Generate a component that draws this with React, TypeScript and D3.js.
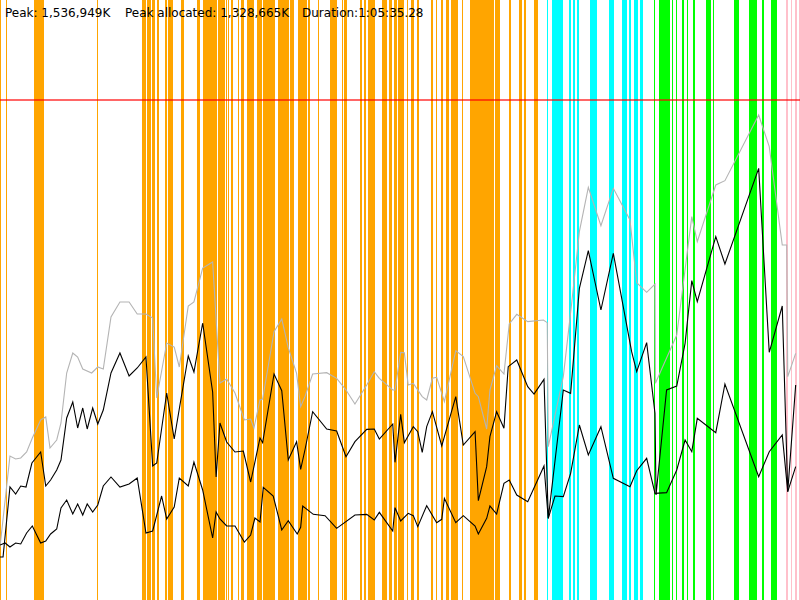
import React from "react";
import * as d3 from "d3";

// Duration 1:05:35.28 in seconds
const DURATION = 3935.28;
// Memory axis top, MB
const MEM_MAX = 1800;
// Heap limit line, MB
const HEAP_LIMIT = 1500;

const headerTexts = [
  "Peak: 1,536,949K",
  "Peak allocated: 1,328,665K",
  "Duration:1:05:35.28",
];

// [time s, MB]
const heapTotal: [number, number][] = [
  [0,159],[49,432],[77,423],[102,426],[131,444],[159,486],[200,540],[225,549],[246,456],[279,480],
  [300,531],[328,681],[358,741],[382,729],[407,693],[451,681],[481,699],[508,693],[546,849],[590,894],
  [635,894],[675,858],[718,858],[751,846],[771,606],[820,771],[857,759],[882,699],[926,882],[954,894],
  [997,996],[1046,1014],[1082,651],[1115,663],[1156,621],[1202,540],[1233,543],[1249,516],[1279,600],[1292,603],
  [1348,805],[1386,843],[1418,757],[1459,680],[1479,580],[1500,610],[1538,678],[1607,682],[1656,665],[1702,630],
  [1746,588],[1804,645],[1841,685],[1866,665],[1932,630],[1943,630],[1971,743],[1989,742],[2008,645],[2033,650],
  [2077,610],[2099,600],[2127,665],[2148,668],[2186,595],[2242,748],[2279,730],[2337,620],[2353,610],[2394,513],
  [2410,630],[2443,703],[2479,678],[2505,828],[2542,857],[2596,835],[2673,840],[2692,832],[2697,460],[2771,670],
  [2812,890],[2850,1105],[2894,1238],[2956,1123],[3017,1235],[3099,1140],[3132,952],[3181,923],[3222,948],[3224,650],
  [3329,795],[3403,1150],[3430,1075],[3521,1245],[3566,1258],[3732,1455],[3784,1360],[3848,1065],[3870,1065],[3875,670],
  [3914,740],
];

const usedBefore: [number, number][] = [
  [0,129],[15,129],[49,339],[77,318],[102,342],[128,339],[157,411],[200,444],[225,342],[249,360],
  [279,390],[300,420],[328,546],[358,594],[382,516],[407,576],[429,513],[456,576],[481,528],[508,570],
  [546,681],[590,741],[635,672],[675,696],[718,729],[751,402],[771,411],[820,621],[857,483],[926,732],
  [954,684],[997,831],[1046,624],[1063,369],[1082,531],[1115,474],[1156,444],[1197,447],[1233,354],[1279,486],
  [1292,472],[1348,678],[1386,628],[1418,420],[1459,475],[1479,392],[1500,450],[1538,565],[1607,513],[1656,507],
  [1702,430],[1746,475],[1804,512],[1841,513],[1866,483],[1932,528],[1943,413],[1971,557],[1989,472],[2033,520],
  [2055,505],[2077,443],[2099,520],[2127,565],[2173,462],[2242,610],[2279,465],[2337,505],[2353,298],[2394,400],
  [2410,490],[2443,565],[2479,515],[2500,700],[2542,720],[2596,640],[2627,618],[2676,662],[2697,245],[2771,630],
  [2807,620],[2850,935],[2894,1048],[2956,870],[3017,1040],[3107,745],[3132,685],[3181,772],[3222,560],[3227,315],
  [3279,630],[3329,642],[3370,770],[3403,958],[3430,895],[3521,1090],[3566,1008],[3732,1295],[3784,743],[3848,882],
  [3875,325],[3914,645],
];

const usedAfter: [number, number][] = [
  [0,165],[25,171],[49,159],[77,171],[102,168],[131,201],[159,222],[200,171],[225,177],[249,198],
  [279,213],[300,276],[328,300],[358,258],[382,288],[407,255],[429,288],[456,264],[481,285],[508,342],
  [546,369],[590,339],[635,348],[675,366],[718,201],[751,207],[795,312],[820,243],[857,279],[882,366],
  [926,342],[954,414],[997,330],[1046,186],[1063,264],[1082,243],[1115,222],[1156,222],[1202,174],[1233,195],
  [1254,246],[1279,234],[1295,338],[1344,312],[1386,210],[1418,238],[1462,198],[1479,218],[1489,282],[1541,257],
  [1599,253],[1656,215],[1746,255],[1804,257],[1841,240],[1866,263],[1932,207],[1943,277],[1971,237],[2008,260],
  [2033,253],[2055,220],[2099,283],[2148,232],[2173,242],[2186,305],[2242,232],[2279,253],[2337,222],[2353,198],
  [2394,245],[2410,282],[2443,258],[2479,350],[2505,360],[2542,315],[2596,295],[2676,402],[2697,245],[2730,312],
  [2771,310],[2807,380],[2850,525],[2894,435],[2956,520],[3017,365],[3099,340],[3132,388],[3181,425],[3222,320],
  [3279,322],[3329,390],[3370,480],[3403,445],[3430,545],[3521,502],[3566,648],[3732,370],[3784,445],[3848,495],
  [3875,325],[3914,400],
];

// event intervals [start s, end s]
const youngEvents: [number, number][] = [
  [0,5],[30,34],[165,216],[476,484],[699,718],[723,743],[746,761],[771,784],[810,820],[825,850],
  [890,907],[968,984],[997,1066],[1074,1107],[1112,1118],[1123,1128],[1135,1148],[1169,1177],[1184,1202],[1214,1249],
  [1264,1287],[1292,1353],[1366,1423],[1427,1448],[1464,1512],[1517,1525],[1563,1571],[1623,1656],[1681,1689],[1694,1705],
  [1771,1782],[1791,1799],[1812,1845],[1878,1889],[1890,1905],[1913,1930],[1940,1951],[1958,1987],[2001,2008],[2020,2036],
  [2050,2063],[2119,2131],[2145,2151],[2168,2178],[2194,2209],[2217,2251],[2271,2279],[2312,2430],[2435,2460],[2504,2512],
  [2554,2566],[2578,2587],[2627,2648],
];
const mixedEvents: [number, number][] = [
  [2689,2697],[2714,2771],[2800,2807],[2817,2828],[2840,2848],[2902,2935],[2997,3020],[3058,3083],[3096,3102],[3120,3140],
  [3148,3164],
];
const fullEvents: [number, number][] = [
  [3217,3222],[3242,3296],[3304,3312],[3324,3329],[3353,3365],[3381,3386],[3410,3419],[3473,3497],[3506,3512],[3611,3637],
  [3684,3722],[3747,3758],[3791,3821],
];
const otherEvents: [number, number][] = [
  [3866,3875],[3889,3897],[3911,3919],[3930,3935],
];

const W = 800;
const H = 600;

export default function App() {
  const x = d3.scaleLinear().domain([0, DURATION]).range([0, W]);
  const y = d3.scaleLinear().domain([0, MEM_MAX]).range([H, 0]);
  const line = d3
    .line<[number, number]>()
    .x((d) => x(d[0]))
    .y((d) => y(d[1]));

  const groups: { data: [number, number][]; color: string }[] = [
    { data: youngEvents, color: "#FFA500" },
    { data: mixedEvents, color: "#00FFFF" },
    { data: fullEvents, color: "#00FF00" },
    { data: otherEvents, color: "#FFC0CB" },
  ];

  return (
    <>
      <style>{"body{margin:0;background:#fff}"}</style>
      <svg width={W} height={H} style={{ display: "block", background: "#fff" }}>
        <rect x={0} y={0} width={W} height={H} fill="#fff" />
        {groups.map((g, gi) => (
          <g key={gi} fill={g.color} shapeRendering="crispEdges">
            {g.data.map((e, i) => {
              const x0 = Math.round(x(e[0]));
              const x1 = Math.max(x0 + 1, Math.round(x(e[1])));
              return <rect key={i} x={x0} y={0} width={x1 - x0} height={H} />;
            })}
          </g>
        ))}
        <line
          x1={0}
          x2={W}
          y1={y(HEAP_LIMIT)}
          y2={y(HEAP_LIMIT)}
          stroke="#FF0000"
          strokeOpacity={0.6}
          strokeWidth={2}
        />
        <path d={line(heapTotal) ?? ""} fill="none" stroke="#b4b4b4" strokeWidth={1.1} />
        <path d={line(usedBefore) ?? ""} fill="none" stroke="#000" strokeWidth={1.1} />
        <path d={line(usedAfter) ?? ""} fill="none" stroke="#000" strokeWidth={1.1} />
        <g fontFamily="DejaVu Sans" fontSize={12} fill="#000">
          <text x={5} y={17}>{headerTexts[0]}</text>
          <text x={125} y={17}>{headerTexts[1]}</text>
          <text x={302} y={17}>{headerTexts[2]}</text>
        </g>
      </svg>
    </>
  );
}
